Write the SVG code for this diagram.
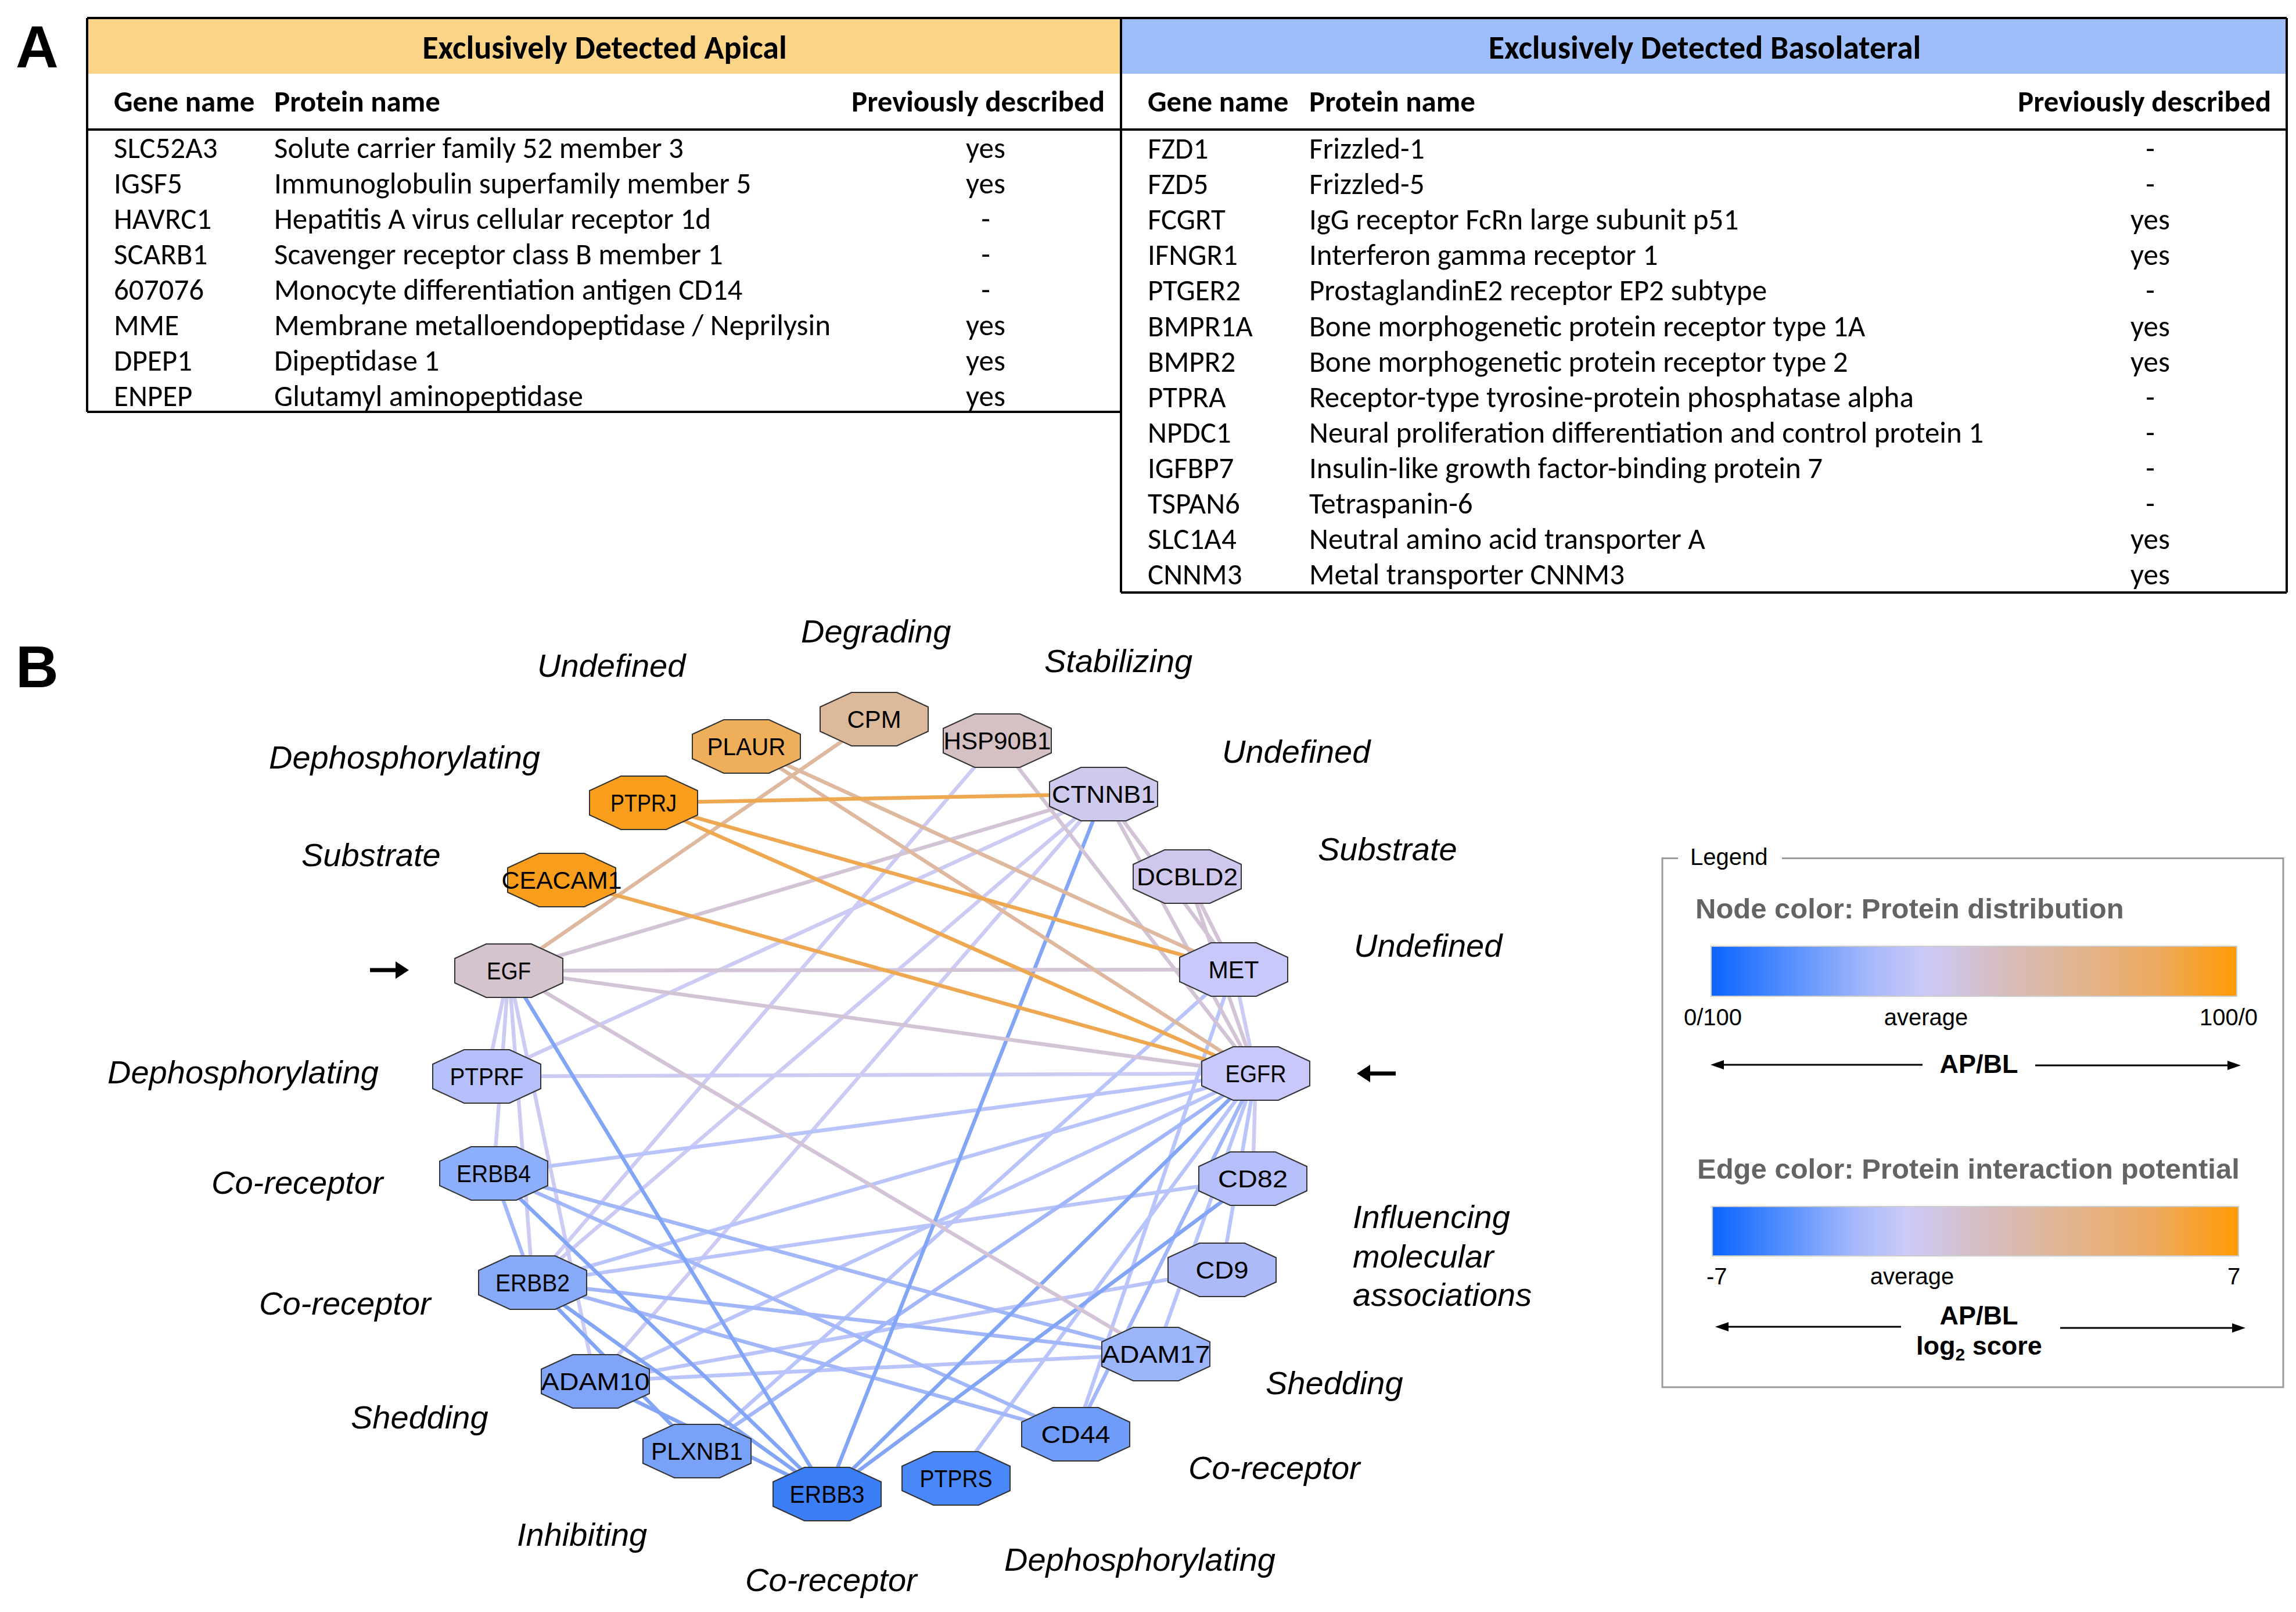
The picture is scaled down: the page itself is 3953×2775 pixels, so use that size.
<svg xmlns="http://www.w3.org/2000/svg" xmlns:xlink="http://www.w3.org/1999/xlink" width="3953" height="2775" viewBox="0 0 3953 2775">
<style>
.tb{font-family:Carlito,Lato,"Liberation Sans",sans-serif;font-size:51px;fill:#000}
.tbb{font-family:Carlito,Lato,"Liberation Sans",sans-serif;font-size:51px;font-weight:bold;fill:#000}
.ttl{font-family:Carlito,Lato,"Liberation Sans",sans-serif;font-size:56px;font-weight:bold;fill:#000}
.big{font-family:"Liberation Sans",Arial,sans-serif;font-size:102px;font-weight:bold;fill:#000}
.lbl{font-family:"Liberation Sans",Arial,sans-serif;font-size:56px;font-style:italic;fill:#000}
.nl{font-family:"Liberation Sans",Arial,sans-serif;font-size:42px;fill:#000;text-anchor:middle}
.tl{stroke:#000;stroke-width:4;fill:none}
.oct{stroke:#333;stroke-width:2}
.e line{stroke-width:6.5;stroke-linecap:round}
.o{stroke:#EEA852}.t{stroke:#DEB9A0}.m{stroke:#D3C3D6}.l{stroke:#CBCBF3}.b1{stroke:#B9C4FB}.b2{stroke:#A2B7F9}.b3{stroke:#82A5F6}
.lg{font-family:"Liberation Sans",Arial,sans-serif;font-size:40px;fill:#000}
.lgh{font-family:"Liberation Sans",Arial,sans-serif;font-size:49px;font-weight:bold;fill:#646464}
.lgb{font-family:"Liberation Sans",Arial,sans-serif;font-size:45px;font-weight:bold;fill:#000}
</style>
<defs>
<polygon id="oct" points="-93,-21 -39,-46 39,-46 93,-21 93,21 39,46 -39,46 -93,21"/>
<linearGradient id="g1" x1="0" y1="0" x2="1" y2="0">
<stop offset="0" stop-color="#0A64FF"/><stop offset="0.15" stop-color="#5590FE"/><stop offset="0.3" stop-color="#A5B8FB"/><stop offset="0.41" stop-color="#CCCAF8"/><stop offset="0.55" stop-color="#D6BDBF"/><stop offset="0.7" stop-color="#E2B48F"/><stop offset="0.85" stop-color="#EDAA5E"/><stop offset="1" stop-color="#FF9A05"/>
</linearGradient>
<linearGradient id="g2" x1="0" y1="0" x2="1" y2="0">
<stop offset="0" stop-color="#0A64FF"/><stop offset="0.14" stop-color="#5590FE"/><stop offset="0.27" stop-color="#A5B8FB"/><stop offset="0.37" stop-color="#CCCAF8"/><stop offset="0.52" stop-color="#D6BDBF"/><stop offset="0.68" stop-color="#E2B48F"/><stop offset="0.84" stop-color="#EDAA5E"/><stop offset="1" stop-color="#FF9A05"/>
</linearGradient>
</defs>
<rect width="3953" height="2775" fill="#fff"/>

<!-- Panel A -->
<text class="big" x="27" y="116">A</text>
<g id="table-apical">
<rect x="152" y="33" width="1776" height="94" fill="#FBD488"/>
<text class="ttl" x="1041" y="101" text-anchor="middle">Exclusively Detected Apical</text>
<text class="tbb" x="196" y="192">Gene name</text>
<text class="tbb" x="472" y="192">Protein name</text>
<text class="tbb" x="1902" y="192" text-anchor="end">Previously described</text>
<g class="tb">
<text x="196" y="272">SLC52A3</text><text x="472" y="272">Solute carrier family 52 member 3</text><text x="1697" y="272" text-anchor="middle">yes</text>
<text x="196" y="333">IGSF5</text><text x="472" y="333">Immunoglobulin superfamily member 5</text><text x="1697" y="333" text-anchor="middle">yes</text>
<text x="196" y="394">HAVRC1</text><text x="472" y="394">Hepatitis A virus cellular receptor 1d</text><text x="1697" y="394" text-anchor="middle">-</text>
<text x="196" y="455">SCARB1</text><text x="472" y="455">Scavenger receptor class B member 1</text><text x="1697" y="455" text-anchor="middle">-</text>
<text x="196" y="516">607076</text><text x="472" y="516">Monocyte differentiation antigen CD14</text><text x="1697" y="516" text-anchor="middle">-</text>
<text x="196" y="577">MME</text><text x="472" y="577">Membrane metalloendopeptidase / Neprilysin</text><text x="1697" y="577" text-anchor="middle">yes</text>
<text x="196" y="638">DPEP1</text><text x="472" y="638">Dipeptidase 1</text><text x="1697" y="638" text-anchor="middle">yes</text>
<text x="196" y="699">ENPEP</text><text x="472" y="699">Glutamyl aminopeptidase</text><text x="1697" y="699" text-anchor="middle">yes</text>
</g>
</g>
<g id="table-basolateral">
<rect x="1932" y="33" width="2003" height="94" fill="#9DBEFA"/>
<text class="ttl" x="2935" y="101" text-anchor="middle">Exclusively Detected Basolateral</text>
<text class="tbb" x="1976" y="192">Gene name</text>
<text class="tbb" x="2254" y="192">Protein name</text>
<text class="tbb" x="3910" y="192" text-anchor="end">Previously described</text>
<g class="tb">
<text x="1976" y="273">FZD1</text><text x="2254" y="273">Frizzled-1</text><text x="3702" y="273" text-anchor="middle">-</text>
<text x="1976" y="334">FZD5</text><text x="2254" y="334">Frizzled-5</text><text x="3702" y="334" text-anchor="middle">-</text>
<text x="1976" y="395">FCGRT</text><text x="2254" y="395">IgG receptor FcRn large subunit p51</text><text x="3702" y="395" text-anchor="middle">yes</text>
<text x="1976" y="456">IFNGR1</text><text x="2254" y="456">Interferon gamma receptor 1</text><text x="3702" y="456" text-anchor="middle">yes</text>
<text x="1976" y="517">PTGER2</text><text x="2254" y="517">ProstaglandinE2 receptor EP2 subtype</text><text x="3702" y="517" text-anchor="middle">-</text>
<text x="1976" y="579">BMPR1A</text><text x="2254" y="579">Bone morphogenetic protein receptor type 1A</text><text x="3702" y="579" text-anchor="middle">yes</text>
<text x="1976" y="640">BMPR2</text><text x="2254" y="640">Bone morphogenetic protein receptor type 2</text><text x="3702" y="640" text-anchor="middle">yes</text>
<text x="1976" y="701">PTPRA</text><text x="2254" y="701">Receptor-type tyrosine-protein phosphatase alpha</text><text x="3702" y="701" text-anchor="middle">-</text>
<text x="1976" y="762">NPDC1</text><text x="2254" y="762">Neural proliferation differentiation and control protein 1</text><text x="3702" y="762" text-anchor="middle">-</text>
<text x="1976" y="823">IGFBP7</text><text x="2254" y="823">Insulin-like growth factor-binding protein 7</text><text x="3702" y="823" text-anchor="middle">-</text>
<text x="1976" y="884">TSPAN6</text><text x="2254" y="884">Tetraspanin-6</text><text x="3702" y="884" text-anchor="middle">-</text>
<text x="1976" y="945">SLC1A4</text><text x="2254" y="945">Neutral amino acid transporter A</text><text x="3702" y="945" text-anchor="middle">yes</text>
<text x="1976" y="1006">CNNM3</text><text x="2254" y="1006">Metal transporter CNNM3</text><text x="3702" y="1006" text-anchor="middle">yes</text>
</g>
</g>
<g id="table-lines" class="tl">
<line x1="150" y1="31" x2="3937" y2="31"/>
<line x1="150" y1="31" x2="150" y2="709"/>
<line x1="1930" y1="31" x2="1930" y2="1020"/>
<line x1="3937" y1="31" x2="3937" y2="1020"/>
<line x1="150" y1="223" x2="3937" y2="223"/>
<line x1="150" y1="709" x2="1930" y2="709"/>
<line x1="1930" y1="1020" x2="3937" y2="1020"/>
</g>

<!-- Panel B -->
<text class="big" x="27" y="1183">B</text>

<g id="connectors" class="e">
<line class="l" x1="876" y1="1671" x2="838" y2="1853"/>
<line class="l" x1="838" y1="1853" x2="2162" y2="1848"/>
<line class="l" x1="838" y1="1853" x2="1900" y2="1367"/>
<line class="l" x1="1900" y1="1367" x2="917" y2="2208"/>
<line class="l" x1="1900" y1="1367" x2="1025" y2="2378"/>
<line class="l" x1="1717" y1="1275" x2="917" y2="2208"/>
<line class="l" x1="876" y1="1671" x2="850" y2="2020"/>
<line class="l" x1="876" y1="1671" x2="917" y2="2208"/>
<line class="l" x1="876" y1="1671" x2="1025" y2="2378"/>
<line class="l" x1="2124" y1="1669" x2="2162" y2="1848"/>
<line class="l" x1="2162" y1="1848" x2="2157" y2="2029"/>
<line class="b1" x1="850" y1="2020" x2="2162" y2="1848"/>
<line class="b1" x1="917" y1="2208" x2="2162" y2="1848"/>
<line class="b1" x1="1025" y1="2378" x2="2162" y2="1848"/>
<line class="b1" x1="917" y1="2208" x2="2157" y2="2029"/>
<line class="b1" x1="1025" y1="2378" x2="2104" y2="2186"/>
<line class="b1" x1="1025" y1="2378" x2="1990" y2="2331"/>
<line class="b1" x1="2124" y1="1669" x2="1200" y2="2498"/>
<line class="b1" x1="1990" y1="2331" x2="2162" y2="1848"/>
<line class="b1" x1="1852" y1="2469" x2="2124" y2="1669"/>
<line class="b1" x1="1646" y1="2545" x2="2162" y2="1848"/>
<line class="b1" x1="2104" y1="2186" x2="2162" y2="1848"/>
<line class="b2" x1="850" y1="2020" x2="1990" y2="2331"/>
<line class="b2" x1="917" y1="2208" x2="1990" y2="2331"/>
<line class="b2" x1="850" y1="2020" x2="1852" y2="2469"/>
<line class="b2" x1="917" y1="2208" x2="1852" y2="2469"/>
<line class="b2" x1="1200" y1="2498" x2="2162" y2="1848"/>
<line class="b2" x1="1852" y1="2469" x2="2162" y2="1848"/>
<line class="b3" x1="2157" y1="2029" x2="1424" y2="2572"/>
<line class="b3" x1="876" y1="1671" x2="1424" y2="2572"/>
<line class="b3" x1="1900" y1="1367" x2="1424" y2="2572"/>
<line class="b3" x1="2162" y1="1848" x2="1424" y2="2572"/>
<line class="b3" x1="850" y1="2020" x2="1424" y2="2572"/>
<line class="b3" x1="917" y1="2208" x2="1424" y2="2572"/>
<line class="b3" x1="1025" y1="2378" x2="1424" y2="2572"/>
<line class="b2" x1="850" y1="2020" x2="917" y2="2208"/>
<line class="b3" x1="917" y1="2208" x2="1200" y2="2498"/>
<line class="m" x1="876" y1="1671" x2="1900" y2="1367"/>
<line class="m" x1="876" y1="1671" x2="2124" y2="1669"/>
<line class="m" x1="876" y1="1671" x2="2162" y2="1848"/>
<line class="m" x1="876" y1="1671" x2="1990" y2="2331"/>
<line class="m" x1="1717" y1="1275" x2="2162" y2="1848"/>
<line class="m" x1="1900" y1="1367" x2="2162" y2="1848"/>
<line class="m" x1="1900" y1="1367" x2="2124" y2="1669"/>
<line class="m" x1="2044" y1="1509" x2="2124" y2="1669"/>
<line class="m" x1="2044" y1="1509" x2="2162" y2="1848"/>
<line class="t" x1="1505" y1="1238" x2="876" y2="1671"/>
<line class="t" x1="1285" y1="1285" x2="2124" y2="1669"/>
<line class="t" x1="1285" y1="1285" x2="2162" y2="1848"/>
<line class="o" x1="1108" y1="1382" x2="1900" y2="1367"/>
<line class="o" x1="1108" y1="1382" x2="2124" y2="1669"/>
<line class="o" x1="1108" y1="1382" x2="2162" y2="1848"/>
<line class="o" x1="967" y1="1515" x2="2162" y2="1848"/>
</g>

<g id="node-CPM"><use href="#oct" class="oct" x="1505" y="1238" fill="#DDB99C"/><text class="nl" x="1505" y="1253" textLength="93" lengthAdjust="spacingAndGlyphs">CPM</text></g>
<g id="node-HSP90B1"><use href="#oct" class="oct" x="1717" y="1275" fill="#D5C0C3"/><text class="nl" x="1717" y="1290" textLength="185" lengthAdjust="spacingAndGlyphs">HSP90B1</text></g>
<g id="node-PLAUR"><use href="#oct" class="oct" x="1285" y="1285" fill="#EEAE5A"/><text class="nl" x="1285" y="1300" textLength="135" lengthAdjust="spacingAndGlyphs">PLAUR</text></g>
<g id="node-CTNNB1"><use href="#oct" class="oct" x="1900" y="1367" fill="#CECAEE"/><text class="nl" x="1900" y="1382" textLength="178" lengthAdjust="spacingAndGlyphs">CTNNB1</text></g>
<g id="node-PTPRJ"><use href="#oct" class="oct" x="1108" y="1382" fill="#F89E1C"/><text class="nl" x="1108" y="1397" textLength="114" lengthAdjust="spacingAndGlyphs">PTPRJ</text></g>
<g id="node-DCBLD2"><use href="#oct" class="oct" x="2044" y="1509" fill="#D0C8EC"/><text class="nl" x="2044" y="1524" textLength="174" lengthAdjust="spacingAndGlyphs">DCBLD2</text></g>
<g id="node-CEACAM1"><use href="#oct" class="oct" x="967" y="1515" fill="#F89E1C"/><text class="nl" x="967" y="1530" textLength="207" lengthAdjust="spacingAndGlyphs">CEACAM1</text></g>
<g id="node-EGF"><use href="#oct" class="oct" x="876" y="1671" fill="#D5C3CD"/><text class="nl" x="876" y="1686" textLength="76" lengthAdjust="spacingAndGlyphs">EGF</text></g>
<g id="node-MET"><use href="#oct" class="oct" x="2124" y="1669" fill="#C8C9FA"/><text class="nl" x="2124" y="1684" textLength="87" lengthAdjust="spacingAndGlyphs">MET</text></g>
<g id="node-PTPRF"><use href="#oct" class="oct" x="838" y="1853" fill="#B5BFFA"/><text class="nl" x="838" y="1868" textLength="127" lengthAdjust="spacingAndGlyphs">PTPRF</text></g>
<g id="node-EGFR"><use href="#oct" class="oct" x="2162" y="1848" fill="#C8C9FA"/><text class="nl" x="2162" y="1863" textLength="105" lengthAdjust="spacingAndGlyphs">EGFR</text></g>
<g id="node-ERBB4"><use href="#oct" class="oct" x="850" y="2020" fill="#8DAEFA"/><text class="nl" x="850" y="2035" textLength="128" lengthAdjust="spacingAndGlyphs">ERBB4</text></g>
<g id="node-CD82"><use href="#oct" class="oct" x="2157" y="2029" fill="#B5BFFA"/><text class="nl" x="2157" y="2044" textLength="120" lengthAdjust="spacingAndGlyphs">CD82</text></g>
<g id="node-ERBB2"><use href="#oct" class="oct" x="917" y="2208" fill="#86A9FA"/><text class="nl" x="917" y="2223" textLength="128" lengthAdjust="spacingAndGlyphs">ERBB2</text></g>
<g id="node-CD9"><use href="#oct" class="oct" x="2104" y="2186" fill="#ACBAFA"/><text class="nl" x="2104" y="2201" textLength="91" lengthAdjust="spacingAndGlyphs">CD9</text></g>
<g id="node-ADAM17"><use href="#oct" class="oct" x="1990" y="2331" fill="#9AB5FA"/><text class="nl" x="1990" y="2346" textLength="187" lengthAdjust="spacingAndGlyphs">ADAM17</text></g>
<g id="node-ADAM10"><use href="#oct" class="oct" x="1025" y="2378" fill="#7FA4F8"/><text class="nl" x="1025" y="2393" textLength="187" lengthAdjust="spacingAndGlyphs">ADAM10</text></g>
<g id="node-CD44"><use href="#oct" class="oct" x="1852" y="2469" fill="#6E9CF8"/><text class="nl" x="1852" y="2484" textLength="119" lengthAdjust="spacingAndGlyphs">CD44</text></g>
<g id="node-PLXNB1"><use href="#oct" class="oct" x="1200" y="2498" fill="#78A1F8"/><text class="nl" x="1200" y="2513" textLength="158" lengthAdjust="spacingAndGlyphs">PLXNB1</text></g>
<g id="node-PTPRS"><use href="#oct" class="oct" x="1646" y="2545" fill="#4A87F8"/><text class="nl" x="1646" y="2560" textLength="125" lengthAdjust="spacingAndGlyphs">PTPRS</text></g>
<g id="node-ERBB3"><use href="#oct" class="oct" x="1424" y="2572" fill="#3A7DF4"/><text class="nl" x="1424" y="2587" textLength="129" lengthAdjust="spacingAndGlyphs">ERBB3</text></g>

<g id="role-labels" class="lbl">
<text x="1379" y="1106">Degrading</text>
<text x="925" y="1165">Undefined</text>
<text x="1798" y="1157">Stabilizing</text>
<text x="463" y="1323">Dephosphorylating</text>
<text x="2104" y="1313">Undefined</text>
<text x="519" y="1491">Substrate</text>
<text x="2269" y="1481">Substrate</text>
<text x="2331" y="1647">Undefined</text>
<text x="185" y="1865">Dephosphorylating</text>
<text x="364" y="2055">Co-receptor</text>
<text x="2329" y="2114">Influencing</text>
<text x="2329" y="2182">molecular</text>
<text x="2329" y="2248">associations</text>
<text x="446" y="2263">Co-receptor</text>
<text x="2179" y="2400">Shedding</text>
<text x="604" y="2459">Shedding</text>
<text x="2046" y="2546">Co-receptor</text>
<text x="890" y="2661">Inhibiting</text>
<text x="1729" y="2704">Dephosphorylating</text>
<text x="1283" y="2739">Co-receptor</text>
</g>

<g id="pointer-arrows">
<line x1="637" y1="1670" x2="684" y2="1670" stroke="#000" stroke-width="7"/>
<polygon points="704,1670 681,1655 681,1685" fill="#000"/>
<line x1="2403" y1="1848" x2="2356" y2="1848" stroke="#000" stroke-width="7"/>
<polygon points="2336,1848 2359,1833 2359,1863" fill="#000"/>
</g>

<g id="legend">
<path d="M2889,1477.5 H2862 V2388 H3931 V1477.5 H3068" fill="none" stroke="#9A9A9A" stroke-width="3"/>
<text class="lg" x="2910" y="1489" font-size="39">Legend</text>
<text class="lgh" x="2919" y="1581">Node color: Protein distribution</text>
<rect x="2946" y="1629" width="905" height="86" fill="url(#g1)" stroke="#CCCCCC" stroke-width="2"/>
<text class="lg" x="2899" y="1765">0/100</text>
<text class="lg" x="3316" y="1765" text-anchor="middle">average</text>
<text class="lg" x="3887" y="1765" text-anchor="end">100/0</text>
<line x1="3310" y1="1833" x2="2965" y2="1833" stroke="#000" stroke-width="3"/>
<polygon points="2945,1833 2968,1825 2968,1841" fill="#000"/>
<text class="lgb" x="3407" y="1847" text-anchor="middle">AP/BL</text>
<line x1="3504" y1="1834" x2="3838" y2="1834" stroke="#000" stroke-width="3"/>
<polygon points="3858,1834 3835,1826 3835,1842" fill="#000"/>
<text class="lgh" x="2922" y="2029">Edge color: Protein interaction potential</text>
<rect x="2948" y="2077" width="906" height="85" fill="url(#g2)" stroke="#CCCCCC" stroke-width="2"/>
<text class="lg" x="2938" y="2211">-7</text>
<text class="lg" x="3292" y="2211" text-anchor="middle">average</text>
<text class="lg" x="3846" y="2211" text-anchor="middle">7</text>
<text class="lgb" x="3407" y="2280" text-anchor="middle">AP/BL</text>
<text class="lgb" x="3299" y="2332">log<tspan dy="10" font-size="30">2</tspan><tspan dy="-10"> score</tspan></text>
<line x1="3273" y1="2284" x2="2973" y2="2284" stroke="#000" stroke-width="3"/>
<polygon points="2953,2284 2976,2276 2976,2292" fill="#000"/>
<line x1="3547" y1="2286" x2="3846" y2="2286" stroke="#000" stroke-width="3"/>
<polygon points="3866,2286 3843,2278 3843,2294" fill="#000"/>
</g>
</svg>
